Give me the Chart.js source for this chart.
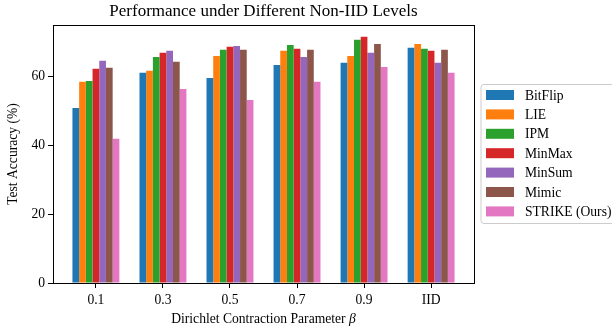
<!DOCTYPE html>
<html>
<head>
<meta charset="utf-8">
<script src="https://cdn.jsdelivr.net/npm/chart.js@4.4.1/dist/chart.umd.min.js"></script>
<style>
html,body{margin:0;padding:0;background:#fff}
#wrap{position:relative;width:612px;height:328px}
</style>
</head>
<body>
<div id="wrap"><canvas id="c" width="612" height="328"></canvas></div>
<script>
const CATS=['0.1','0.3','0.5','0.7','0.9','IID'];
const METHODS=['BitFlip','LIE','IPM','MinMax','MinSum','Mimic','STRIKE (Ours)'];
const COLORS=['#1f77b4','#ff7f0e','#2ca02c','#d62728','#9467bd','#8c564b','#e377c2'];
const BITFLIP=[50.9,61.1,59.6,63.4,64.0,68.4];
const LIE=[58.5,61.7,66.0,67.5,66.0,69.5];
const IPM=[58.7,65.7,67.8,69.2,70.7,68.1];
const MINMAX=[62.3,66.9,68.7,68.1,71.6,67.5];
const MINSUM=[64.6,67.5,68.9,65.7,66.9,64.0];
const MIMIC=[62.6,64.3,67.8,67.8,69.5,67.8];
const STRIKE=[41.9,56.4,53.2,58.5,62.8,61.1];
const Y_TICKS=[0,20,40,60];
const SERIES=[BITFLIP,LIE,IPM,MINMAX,MINSUM,MIMIC,STRIKE];

const FONT='"Liberation Serif","Times New Roman",serif';
const FS=13.6;

const decor={
  id:'decor',
  afterDraw(chart){
    const {ctx,chartArea:a}=chart;
    ctx.save();
    // frame
    ctx.strokeStyle='#000';ctx.lineWidth=1;
    ctx.strokeRect(Math.round(a.left)+0.5,Math.round(a.top)+0.5,Math.round(a.right-a.left),Math.round(a.bottom-a.top));
    // title
    ctx.fillStyle='#000';ctx.textAlign='center';ctx.textBaseline='middle';
    ctx.font='17px '+FONT;
    ctx.fillText('Performance under Different Non-IID Levels',(a.left+a.right)/2,12);
    // x title with italic beta
    ctx.font=FS+'px '+FONT;
    const t1='Dirichlet Contraction Parameter ';
    const w1=ctx.measureText(t1).width;
    ctx.font='italic '+FS+'px '+FONT;
    const w2=ctx.measureText('β').width;
    const x0=(a.left+a.right)/2-(w1+w2)/2;
    ctx.textAlign='left';
    ctx.font=FS+'px '+FONT;ctx.fillText(t1,x0,319);
    ctx.font='italic '+FS+'px '+FONT;ctx.fillText('β',x0+w1,319);
    // y title
    ctx.save();
    ctx.translate(13,(a.top+a.bottom)/2);ctx.rotate(-Math.PI/2);
    ctx.textAlign='center';ctx.font=FS+'px '+FONT;
    ctx.fillText('Test Accuracy (%)',0,0);
    ctx.restore();
    // legend
    const lx=481,ly=84.5,lw=140,lh=139,r=3;
    ctx.beginPath();
    ctx.moveTo(lx+r,ly);ctx.lineTo(lx+lw-r,ly);ctx.arcTo(lx+lw,ly,lx+lw,ly+r,r);
    ctx.lineTo(lx+lw,ly+lh-r);ctx.arcTo(lx+lw,ly+lh,lx+lw-r,ly+lh,r);
    ctx.lineTo(lx+r,ly+lh);ctx.arcTo(lx,ly+lh,lx,ly+lh-r,r);
    ctx.lineTo(lx,ly+r);ctx.arcTo(lx,ly,lx+r,ly,r);
    ctx.closePath();
    ctx.fillStyle='rgba(255,255,255,0.8)';ctx.fill();
    ctx.strokeStyle='#cccccc';ctx.stroke();
    ctx.font=FS+'px '+FONT;ctx.textAlign='left';ctx.textBaseline='middle';
    METHODS.forEach((m,i)=>{
      const y=95+i*19.4;
      ctx.fillStyle=COLORS[i];ctx.fillRect(486,y-5,28,10);
      ctx.fillStyle='#000';ctx.fillText(m,525,y+1);
    });
    ctx.restore();
  }
};

new Chart(document.getElementById('c'),{
  type:'bar',
  data:{datasets:SERIES.map((s,i)=>({
    label:METHODS[i],
    data:s.map((v,j)=>({x:j,y:v})),
    backgroundColor:COLORS[i],borderWidth:0,
    barPercentage:1.0,categoryPercentage:0.7
  }))},
  options:{
    responsive:false,animation:false,
    layout:{padding:{left:0,right:138,top:25,bottom:0}},
    plugins:{legend:{display:false},tooltip:{enabled:false},title:{display:false}},
    scales:{
      x:{type:'linear',min:-0.64,max:5.64,offset:false,
        afterBuildTicks(s){s.ticks=CATS.map((c,i)=>({value:i}))},
        afterFit(s){s.height=45},
        grid:{display:true,offset:false,drawOnChartArea:false,drawTicks:true,tickLength:5,color:'#000'},
        border:{display:true,color:'#000'},
        ticks:{color:'#000',font:{family:FONT,size:FS},padding:4,maxRotation:0,autoSkip:false,callback:v=>CATS[v]}
      },
      y:{min:0,max:75,
        afterBuildTicks(s){s.ticks=Y_TICKS.map(v=>({value:v}))},
        afterFit(s){s.width=53},
        grid:{display:true,drawOnChartArea:false,drawTicks:true,tickLength:5,color:'#000'},
        border:{display:true,color:'#000'},
        ticks:{color:'#000',font:{family:FONT,size:FS},padding:3}
      }
    }
  },
  plugins:[decor]
});
</script>
</body>
</html>
